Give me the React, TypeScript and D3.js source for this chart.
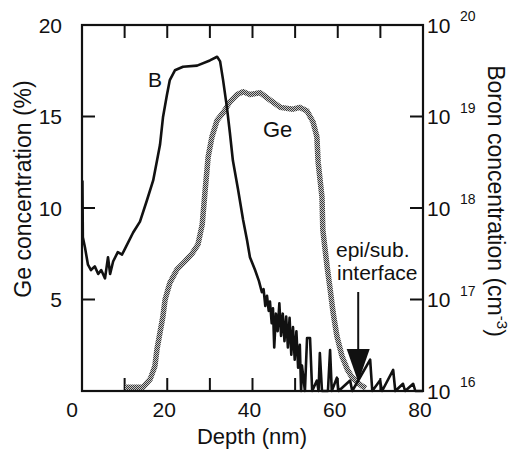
import React from 'react';
import * as d3 from 'd3';

// Ge profile (left axis, %)
const geDepth = [10.1, 14.3, 16.0, 17.1, 17.6, 18.3, 19.0, 19.5, 20.6, 22.3, 24.2, 25.8, 27.2, 28.2, 28.9, 29.6, 30.5, 31.7, 33.1, 34.7, 36.4, 37.8, 39.4, 41.8, 44.1, 46.5, 49.5, 51.1, 52.8, 54.2, 55.1, 55.4, 56.3, 56.5, 57.5, 58.2, 58.9, 59.8, 61.0, 62.2, 63.3, 64.5, 65.7, 66.6];
const gePct = [0.2, 0.2, 0.65, 1.36, 2.3, 3.2, 4.1, 5.0, 5.9, 6.65, 7.1, 7.5, 8.0, 9.1, 11.0, 12.8, 13.9, 14.8, 15.2, 15.8, 16.2, 16.35, 16.2, 16.3, 15.9, 15.5, 15.4, 15.5, 15.3, 14.7, 13.9, 12.5, 10.6, 8.8, 6.8, 5.6, 4.3, 3.0, 1.9, 1.2, 0.76, 0.49, 0.27, 0.16];

// Boron profile (right axis, cm-3)
const bDepth = [0.1, 0.2, 0.7, 1.4, 2.1, 3.0, 3.8, 4.5, 5.4, 6.1, 6.6, 7.3, 8.4, 9.4, 10.1, 12.0, 13.6, 15.2, 16.7, 17.6, 18.3, 19.0, 19.9, 20.6, 21.8, 23.7, 27.0, 30.0, 31.7, 32.4, 33.1, 34.0, 34.7, 35.4, 36.6, 37.8, 38.7, 39.4, 40.6, 41.5, 42.2, 42.6, 43.0, 43.4, 43.8, 44.1, 44.5, 44.8, 45.1, 45.5, 45.9, 46.3, 46.7, 47.1, 47.5, 47.9, 48.3, 48.7, 49.1, 49.5, 49.9, 50.3, 50.7, 51.1, 51.4, 51.6, 52.3, 52.8, 53.5, 54.0, 55.1, 55.5, 55.8, 56.3, 57.7, 58.2, 58.6, 59.8, 60.2, 62.9, 63.4, 67.6, 68.1, 69.9, 70.4, 73.0, 73.5, 75.3, 75.8, 77.7, 78.2, 80];
const bConc = [2.0e18, 4.8e17, 3.7e17, 2.4e17, 2.1e17, 2.3e17, 1.9e17, 2.1e17, 1.7e17, 2.9e17, 1.9e17, 2.6e17, 3.3e17, 3.1e17, 3.6e17, 5.4e17, 7.1e17, 1.2e18, 2.0e18, 3.3e18, 4.9e18, 9.8e18, 1.7e19, 2.5e19, 3.2e19, 3.5e19, 3.6e19, 4.1e19, 4.5e19, 4.0e19, 2.5e19, 1.26e19, 6.6e18, 3.3e18, 1.6e18, 7.4e17, 4.5e17, 2.9e17, 2.1e17, 1.6e17, 1.2e17, 1.3e17, 8.5e16, 1.1e17, 7.5e16, 9.5e16, 5.5e16, 8.0e16, 3.0e16, 7.0e16, 4.5e16, 9.1e16, 4.0e16, 7.0e16, 3.5e16, 6.5e16, 3.0e16, 6.3e16, 2.5e16, 5.0e16, 2.2e16, 4.5e16, 1.8e16, 3.2e16, 8e15, 1.9e16, 8e15, 3.8e16, 3.8e16, 8e15, 1.3e16, 8e15, 2.6e16, 8e15, 8e15, 2.8e16, 8e15, 1.4e16, 8e15, 1.3e16, 8e15, 2.2e16, 8e15, 1.3e16, 8e15, 1.7e16, 8e15, 1.2e16, 8e15, 1.2e16, 8e15, 8e15];

const xTicks = [0, 20, 40, 60, 80];
const xMinor = [10, 20, 30, 40, 50, 60, 70];
const geTicks = [5, 10, 15, 20];
const bTicks = [1e16, 1e17, 1e18, 1e19, 1e20];

const FONT = '"Liberation Sans", Arial, Helvetica, sans-serif';

export default function App() {
  const left = 82, right = 423, top = 25, bottom = 391;
  const x = d3.scaleLinear().domain([0, 80]).range([left, right]);
  const yGe = d3.scaleLinear().domain([0, 20]).range([bottom, top]);
  const yB = d3.scaleLog().domain([1e16, 1e20]).range([bottom, top]).clamp(true);

  const geLine = d3.line<number>().x((d, i) => x(geDepth[i])).y(d => yGe(d));
  const bLine = d3.line<number>().x((d, i) => x(bDepth[i])).y(d => yB(d));

  const arrowX = x(64.8);
  const tk = 13;

  return (
    <svg width={515} height={453} style={{ position: 'absolute', left: 0, top: 0, background: '#fff' }} fontFamily={FONT}>
      <defs>
        <pattern id="chk" width="2" height="2" patternUnits="userSpaceOnUse">
          <rect width="2" height="2" fill="#c8c8c8" />
          <rect width="1" height="1" fill="#3a3a3a" />
          <rect x="1" y="1" width="1" height="1" fill="#3a3a3a" />
        </pattern>
      </defs>

      {/* ticks */}
      <g stroke="#111" strokeWidth={2}>
        {xMinor.map(v => (
          <g key={'x' + v}>
            <line x1={x(v)} x2={x(v)} y1={bottom} y2={bottom - tk} />
            <line x1={x(v)} x2={x(v)} y1={top} y2={top + tk} />
          </g>
        ))}
        {geTicks.slice(0, 3).map(v => (
          <line key={'g' + v} x1={left} x2={left + tk} y1={yGe(v)} y2={yGe(v)} />
        ))}
        {bTicks.slice(1, 4).map(v => (
          <line key={'b' + v} x1={right} x2={right - tk} y1={yB(v)} y2={yB(v)} />
        ))}
      </g>

      {/* curves */}
      <path d={geLine(gePct) || ''} fill="none" stroke="url(#chk)" strokeWidth={5.5} strokeLinejoin="round" />
      <path d={bLine(bConc) || ''} fill="none" stroke="#111" strokeWidth={2.6} strokeLinejoin="round" />

      {/* frame */}
      <rect x={left} y={top} width={right - left} height={bottom - top} fill="none" stroke="#111" strokeWidth={2.2} />

      {/* tick labels */}
      <g fontSize={21} fill="#111">
        {xTicks.map(v => (
          <text key={'xl' + v} x={x(v) - (v === 0 ? 10 : 3)} y={417} textAnchor="middle">{v}</text>
        ))}
        {geTicks.map(v => (
          <text key={'gl' + v} x={62} y={yGe(v) + 7.5} textAnchor="end">{v}</text>
        ))}
        {bTicks.map(v => (
          <g key={'bl' + v}>
            <text x={427} y={yB(v) + 7.5}>10</text>
            <text x={460} y={yB(v) - 4} fontSize={14}>{Math.round(Math.log10(v))}</text>
          </g>
        ))}
      </g>

      {/* axis titles */}
      <text x={252} y={444} fontSize={22} textAnchor="middle" fill="#111">Depth (nm)</text>
      <text transform="translate(31,189) rotate(-90)" fontSize={23} textAnchor="middle" fill="#111">Ge concentration (%)</text>
      <text transform="translate(488,201) rotate(90)" fontSize={23} textAnchor="middle" fill="#111">
        Boron concentration (cm<tspan fontSize={15} dy={-9}>-3</tspan><tspan dy={9}>)</tspan>
      </text>

      {/* annotations */}
      <text x={148} y={87} fontSize={21} fill="#111">B</text>
      <text x={263} y={137} fontSize={22} fill="#111">Ge</text>
      <text x={336} y={257} fontSize={21} fill="#111">epi/sub.</text>
      <text x={337} y={280} fontSize={21} fill="#111">interface</text>
      <line x1={arrowX} x2={arrowX} y1={292} y2={352} stroke="#111" strokeWidth={2} />
      <path d={`M${arrowX - 11.5},349 L${arrowX + 11.5},349 L${arrowX},382 Z`} fill="#111" />
    </svg>
  );
}
